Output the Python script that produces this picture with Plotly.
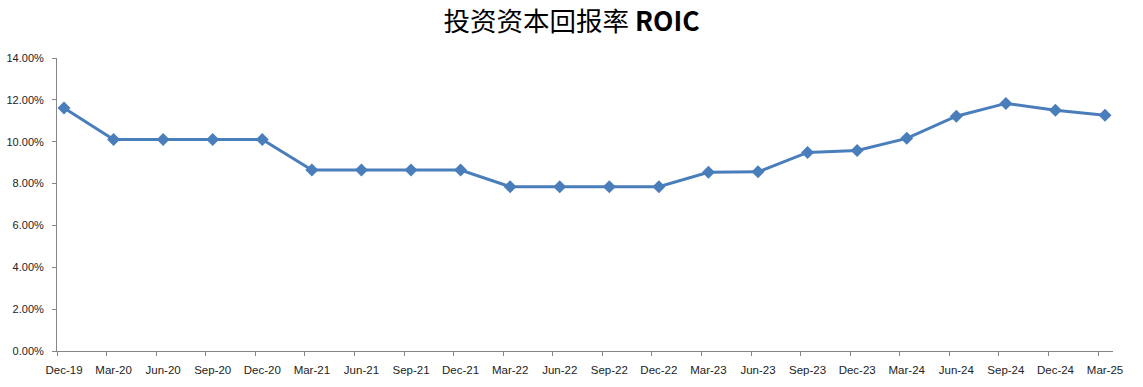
import plotly.graph_objects as go

categories = ["Dec-19", "Mar-20", "Jun-20", "Sep-20", "Dec-20", "Mar-21", "Jun-21", "Sep-21",
              "Dec-21", "Mar-22", "Jun-22", "Sep-22", "Dec-22", "Mar-23", "Jun-23", "Sep-23",
              "Dec-23", "Mar-24", "Jun-24", "Sep-24", "Dec-24", "Mar-25"]
roic = [0.1161, 0.1011, 0.1011, 0.1011, 0.1011, 0.0865, 0.0865, 0.0865,
        0.0865, 0.0785, 0.0785, 0.0785, 0.0785, 0.0854, 0.0856, 0.0949,
        0.0958, 0.1016, 0.1122, 0.1183, 0.1150, 0.1127]
y_ticks = [0, 0.02, 0.04, 0.06, 0.08, 0.10, 0.12, 0.14]

x_idx = list(range(len(categories)))
offset = 0.141

fig = go.Figure()
fig.add_trace(go.Scatter(
    x=x_idx, y=roic, mode="lines+markers",
    line=dict(color="#4A7EBB", width=3),
    marker=dict(symbol="diamond", size=10, color="#4A7EBB"),
    showlegend=False, hoverinfo="skip",
))

fig.update_layout(
    width=1143, height=387,
    margin=dict(l=57, r=30, t=58, b=36, autoexpand=False),
    paper_bgcolor="white", plot_bgcolor="white",
    title=dict(
        text="投资资本回报率 <b>ROIC</b>",
        x=0.5, xanchor="center", y=0.943, yanchor="middle",
        font=dict(family="Noto Sans CJK SC", size=26.5, color="#000000"),
    ),
    font=dict(family="Liberation Sans, Arial", size=11, color="#222222"),
    xaxis=dict(
        range=[-offset, len(categories) - 1 + 0.161],
        tickmode="array",
        tickvals=[i - offset for i in x_idx],
        ticktext=categories,
        ticklabelshift=7,
        tickfont=dict(size=11.5),
        ticks="outside", ticklen=4, tickcolor="#868686", tickwidth=1,
        showline=True, linecolor="#868686", linewidth=1,
        showgrid=False, zeroline=False, automargin=False,
        ticklabelstandoff=4,
    ),
    yaxis=dict(
        range=[0, 0.14],
        tickmode="array",
        tickvals=y_ticks,
        tickformat=".2%",
        ticks="outside", ticklen=4, tickcolor="#868686", tickwidth=1,
        showline=True, linecolor="#868686", linewidth=1,
        showgrid=False, zeroline=False, automargin=False,
        ticklabelstandoff=6,
    ),
)

fig.write_html("out.html")
